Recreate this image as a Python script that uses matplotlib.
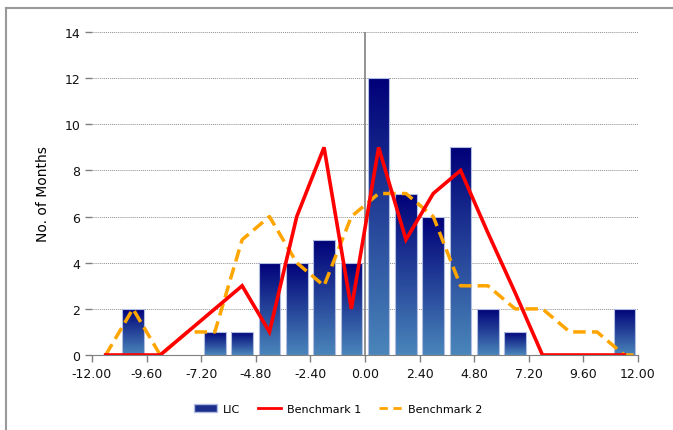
import numpy as np
import matplotlib
matplotlib.use('Agg')
import matplotlib.pyplot as plt
from matplotlib.colors import LinearSegmentedColormap
from matplotlib.lines import Line2D
from matplotlib.patches import Patch

# bin centres (width 1.2) and counts
centers = [-11.4, -10.2, -9.0, -7.8, -6.6, -5.4, -4.2, -3.0, -1.8, -0.6,
           0.6, 1.8, 3.0, 4.2, 5.4, 6.6, 7.8, 9.0, 10.2, 11.4]
lic = [0, 2, 0, 0, 1, 1, 4, 4, 5, 4, 12, 7, 6, 9, 2, 1, 0, 0, 0, 2]
bench1 = [0, 0, 0, 1, 2, 3, 1, 6, 9, 2, 9, 5, 7, 8, 5.3, 2.7, 0, 0, 0, 0]
bench2_x = centers + [12.0]
bench2 = [0, 2, 0, 1, 1, 5, 6, 4, 3, 6, 7, 7, 6, 3, 3, 2, 2, 1, 1, 0, 0]
xticks = [-12.0, -9.6, -7.2, -4.8, -2.4, 0.0, 2.4, 4.8, 7.2, 9.6, 12.0]

fig = plt.figure(figsize=(6.73, 4.31), dpi=100)
ax = fig.add_axes([0.1367, 0.174, 0.8113, 0.7494])

# bars with vertical gradient
bars = ax.bar(centers, lic, width=0.95, color='none', edgecolor='#b0bde0',
              linewidth=0.8, zorder=3)
grad = np.linspace(0, 1, 256).reshape(-1, 1)
cmap = LinearSegmentedColormap.from_list('lic', ['#4a86ba', '#000078'])
for b in bars:
    if b.get_height() <= 0:
        continue
    x0, w, h = b.get_x(), b.get_width(), b.get_height()
    im = ax.imshow(grad, extent=[x0, x0 + w, 0, h], origin='lower', cmap=cmap,
                   aspect='auto', zorder=2)
    im.set_clip_path(b)

ax.plot(centers, bench1, color='#ff0000', linewidth=2.6, zorder=5,
        solid_joinstyle='miter')
ax.plot(bench2_x, bench2, color='#ffa500', linewidth=2.5, dashes=(3.6, 1.8),
        zorder=4)

ax.axvline(0, color='#808080', linewidth=1.2, zorder=1)

ax.set_xlim(-12, 12)
ax.set_ylim(0, 14)
ax.set_xticks(xticks)
ax.set_xticklabels(['%.2f' % v for v in xticks])
ax.set_yticks(range(0, 15, 2))
ax.yaxis.grid(True, linestyle=(0, (1, 1)), color='#909090', linewidth=0.7)
ax.set_axisbelow(True)

for s in ['top', 'right', 'left']:
    ax.spines[s].set_visible(False)
ax.spines['bottom'].set_color('#808080')
ax.spines['bottom'].set_zorder(6)
ax.tick_params(axis='both', colors='#808080', labelcolor='#111111',
               labelsize=9, length=5, width=1)
ax.set_ylabel('No. of Months', fontsize=10, labelpad=10)

handles = [Patch(facecolor='#1c2f8c', edgecolor='#b0bde0'),
           Line2D([], [], color='#ff0000', linewidth=2),
           Line2D([], [], color='#ffa500', linewidth=2, dashes=(3, 2))]
fig.legend(handles, ['LIC', 'Benchmark 1', 'Benchmark 2'], loc='center',
           bbox_to_anchor=(0.502, 0.049), ncol=3, frameon=False, fontsize=8,
           handlelength=2.1, handletextpad=0.5, columnspacing=1.6)

# outer panel border
fig.add_artist(Line2D([0.009, 0.009], [0, 0.978], color='#999999', linewidth=1.5))
fig.add_artist(Line2D([0.009, 1], [0.978, 0.978], color='#999999', linewidth=1.5))

fig.savefig('out.png', dpi=100)
